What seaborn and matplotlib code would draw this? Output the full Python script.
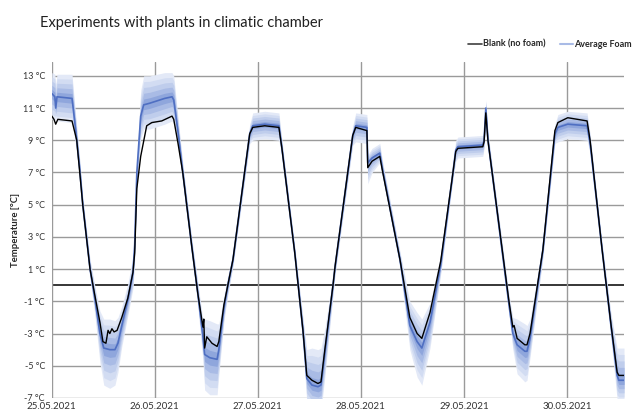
import numpy as np
import pandas as pd
import matplotlib
matplotlib.use("Agg")
import matplotlib.pyplot as plt
import matplotlib.dates as mdates
import seaborn as sns

# Chart data (hours after 25.05.2021 00:00, °C)
START = pd.Timestamp("2021-05-25")
END_HOURS = 133.3

blank_h = [0.0, 0.5, 0.9, 1.4, 4.7, 5.8, 7.2, 8.9, 10.0, 11.2, 11.9, 12.6, 13.1, 13.5,
           14.0, 14.5, 15.2, 16.3, 17.7, 18.9, 19.3, 19.8, 20.7, 22.1, 23.3, 25.6, 28.0,
           28.4, 29.4, 30.5, 32.6, 34.0, 35.2, 35.4, 35.6, 36.1, 37.3, 38.5, 38.9, 40.1,
           41.0, 42.2, 46.1, 46.8, 49.6, 52.9, 53.6, 56.6, 58.5, 59.4, 60.6, 62.0, 62.7,
           63.6, 65.5, 66.0, 70.1, 70.8, 73.4, 73.6, 74.6, 76.4, 77.1, 81.1, 83.4, 85.1,
           86.2, 88.1, 90.6, 93.2, 94.1, 94.6, 100.4, 100.7, 101.1, 101.6, 106.5, 107.4,
           107.7, 108.4, 110.2, 110.7, 111.4, 114.4, 117.2, 117.9, 120.2, 124.7, 125.4,
           128.2, 130.3, 131.7, 132.1, 133.3]
blank_t = [10.5, 10.3, 10.0, 10.3, 10.2, 9.0, 5.0, 1.0, -0.6, -2.3, -3.5, -3.6, -2.8, -3.0,
           -2.7, -2.9, -2.8, -2.0, -0.8, 0.8, 2.0, 6.0, 8.0, 9.9, 10.1, 10.2, 10.5,
           10.3, 8.8, 7.0, 2.4, -0.5, -2.6, -2.1, -3.9, -3.2, -3.6, -3.8, -3.5, -1.2,
           0.0, 1.6, 9.4, 9.8, 9.9, 9.8, 8.5, 2.0, -2.8, -5.6, -5.9, -6.1, -6.0,
           -4.0, 0.0, 1.2, 9.3, 9.8, 9.6, 7.3, 7.7, 8.0, 7.0, 1.6, -2.0, -3.0,
           -3.3, -1.7, 1.5, 6.5, 8.3, 8.5, 8.6, 8.9, 10.7, 9.0, -1.0, -2.6,
           -2.5, -3.3, -3.7, -3.7, -3.0, 2.2, 9.6, 10.1, 10.4, 10.2, 9.0,
           2.2, -2.5, -5.4, -5.6, -5.6]

foam_h = [0.0, 0.7, 0.9, 1.2, 4.7, 5.4, 6.5, 7.2, 8.9, 10.0, 11.2, 12.1, 13.5, 14.7, 15.4,
          16.3, 17.7, 18.9, 19.3, 19.8, 20.7, 21.4, 22.8, 26.3, 28.0, 28.4, 29.4, 30.5,
          32.6, 34.0, 35.2, 35.6, 36.8, 38.5, 38.9, 40.1, 41.0, 42.2, 46.1, 46.8, 49.6,
          52.9, 53.6, 56.6, 58.5, 59.4, 60.6, 62.0, 62.7, 63.6, 65.5, 66.0, 70.1, 70.8,
          73.4, 73.6, 74.6, 76.4, 77.1, 81.1, 83.4, 85.1, 86.2, 88.1, 90.6, 93.2, 94.1,
          94.6, 100.4, 100.7, 101.1, 101.6, 106.5, 107.4, 108.4, 110.2, 110.7, 111.4,
          114.4, 117.2, 117.9, 120.2, 124.7, 125.4, 128.2, 130.3, 131.7, 132.1, 133.3]
foam_mean = [11.9, 11.7, 11.0, 11.7, 11.6, 10.0, 7.2, 5.0, 1.0, -0.8, -3.0, -3.9, -4.0, -4.0, -3.6,
             -2.5, -0.9, 0.8, 2.5, 7.0, 10.5, 11.2, 11.3, 11.6, 11.7, 11.5, 9.5, 7.0,
             2.4, -0.5, -3.2, -4.3, -4.5, -4.6, -4.0, -1.4, 0.0, 1.6, 9.4, 9.9, 10.0,
             9.9, 8.5, 2.0, -2.8, -5.8, -6.2, -6.3, -6.2, -4.2, 0.0, 1.2, 9.3, 9.9,
             9.8, 7.6, 7.9, 8.2, 7.1, 1.6, -2.5, -3.5, -3.9, -2.3, 1.3, 6.5, 8.4,
             8.6, 8.7, 9.0, 11.0, 9.0, -1.2, -3.0, -3.7, -4.1, -4.1, -3.3,
             2.2, 9.4, 9.8, 10.0, 9.9, 8.8, 2.2, -2.6, -5.6, -5.9, -5.9]
# spread of the individual foam sensors around the average (above / below)
foam_up = [1.3, 1.4, 1.5, 1.4, 1.5, 1.0, 0.6, 0.5, 0.6, 0.8, 1.4, 1.8, 1.9, 1.8, 1.6,
           1.2, 1.0, 1.0, 0.9, 0.8, 1.6, 1.8, 1.7, 1.6, 1.5, 1.5, 0.9, 0.6,
           0.5, 0.7, 1.0, 2.2, 2.3, 2.2, 1.6, 0.8, 0.6, 0.4, 0.6, 0.8, 0.8,
           0.8, 0.5, 0.4, 0.8, 1.8, 2.3, 2.3, 2.3, 1.5, 0.6, 0.5, 0.6, 0.8,
           0.8, 0.5, 0.6, 0.6, 0.5, 0.5, 1.5, 1.8, 1.8, 1.2, 0.6, 0.4, 0.6,
           0.6, 0.6, 0.5, 0.5, 0.5, 0.6, 1.0, 1.6, 1.7, 1.6, 1.2,
           0.5, 0.6, 0.8, 0.8, 0.8, 0.6, 0.4, 0.8, 1.7, 2.0, 2.0]
foam_down = [1.6, 1.5, 0.6, 1.5, 1.5, 1.0, 0.6, 0.5, 0.6, 1.0, 1.8, 2.3, 2.4, 2.2, 1.8,
             1.3, 1.0, 1.0, 0.9, 0.8, 1.4, 1.5, 1.6, 1.6, 1.5, 1.5, 0.9, 0.6,
             0.5, 0.8, 1.5, 2.2, 2.3, 2.2, 1.6, 0.8, 0.6, 0.4, 0.6, 0.9, 0.9,
             0.9, 0.5, 0.4, 1.0, 1.5, 1.6, 1.6, 1.6, 1.5, 0.6, 0.5, 0.6, 1.0,
             1.0, 1.3, 0.9, 0.6, 0.5, 0.5, 1.5, 2.2, 2.3, 1.6, 0.6, 0.4, 0.7,
             0.7, 0.7, 0.5, 0.5, 0.5, 0.6, 1.0, 1.8, 1.9, 1.8, 1.2,
             0.5, 0.6, 0.9, 0.9, 0.9, 0.6, 0.4, 0.8, 1.5, 1.3, 1.3]

Y_TICKS = list(range(-7, 14, 2))

# Build frames
blank = pd.DataFrame({"time": START + pd.to_timedelta(blank_h, unit="h"), "temp": blank_t})
foam = pd.DataFrame({"time": START + pd.to_timedelta(foam_h, unit="h"), "temp": foam_mean,
                     "up": foam_up, "down": foam_down})

sns.set_theme(style="white")
plt.rcParams["font.family"] = ["Lato", "DejaVu Sans"]

fig = plt.figure(figsize=(6.4, 4.15), dpi=100)
ax = fig.add_axes([0.081, 0.041, 0.894, 0.810])

# grid
for y in Y_TICKS:
    ax.axhline(y, color="#9a9a9a", lw=1.0, zorder=0)
ax.axhline(0, color="black", lw=1.1, zorder=0.5)
ax.xaxis.set_major_locator(mdates.DayLocator())
ax.xaxis.set_major_formatter(mdates.DateFormatter("%d.%m.%Y"))
ax.grid(axis="x", color="#9a9a9a", lw=1.0)
ax.set_axisbelow(True)

# spread of foam sensors as layered light-blue bands
for frac, col in [(1.0, "#e3e9f7"), (0.8, "#d2dcf2"), (0.6, "#bfcdec"),
                  (0.4, "#a9bbe5"), (0.2, "#8fa6dc")]:
    ax.fill_between(foam["time"], foam["temp"] + frac * foam["up"],
                    foam["temp"] - frac * foam["down"], color=col, lw=0, zorder=1)

sns.lineplot(data=foam, x="time", y="temp", ax=ax, color="#4f6fc2", lw=1.2, zorder=2)
sns.lineplot(data=blank, x="time", y="temp", ax=ax, color="black", lw=1.0, zorder=3)

ax.set_xlim(START, START + pd.Timedelta(hours=END_HOURS))
ax.set_ylim(-7, 13.87)
ax.set_yticks(Y_TICKS)
ax.set_yticklabels([f"{v} °C" for v in Y_TICKS])
ax.tick_params(axis="y", labelsize=6.5, pad=5, length=0, colors="#333333")
ax.tick_params(axis="x", labelsize=7, pad=3, length=0, colors="#333333")
ax.set_xlabel("")
ax.set_ylabel("Temperature [°C]", fontsize=6.8, fontweight="bold", labelpad=2)
for s in ax.spines.values():
    s.set_visible(False)

fig.text(0.0625, 0.945, "Experiments with plants in climatic chamber", fontsize=10.5,
         color="#202020", va="center")

handles = [plt.Line2D([], [], color="#404040", lw=1.2),
           plt.Line2D([], [], color="#a9bbe6", lw=1.5)]
leg = fig.legend(handles, ["Blank (no foam)", "Average Foam"], loc="center right",
                 bbox_to_anchor=(1.0, 0.893), ncol=2, frameon=False, handlelength=1.5,
                 handletextpad=0.1, columnspacing=1.6, prop={"size": 6.5, "weight": "bold"})

fig.savefig("out.png", dpi=100)
